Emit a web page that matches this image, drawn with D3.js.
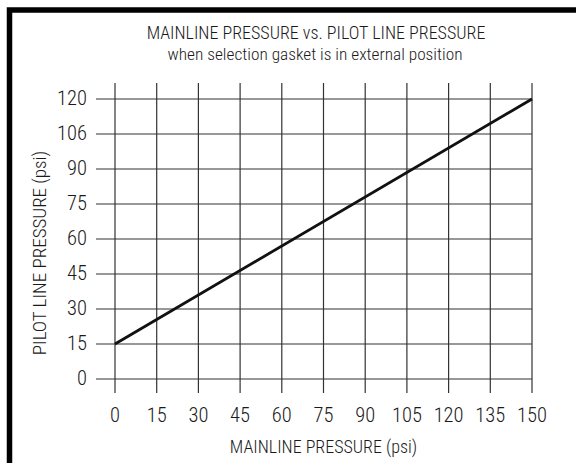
<!DOCTYPE html>
<html>
<head>
<meta charset="utf-8">
<script src="https://cdn.jsdelivr.net/npm/d3@7"></script>
<style>
  body { margin: 0; background: #fff; }
  text { font-family: "Roboto Condensed", "Liberation Sans", sans-serif; font-weight: 300; fill: #1a1a1a; }
</style>
</head>
<body>
<div id="chart"></div>
<script>
// data
var xTicks = [0, 15, 30, 45, 60, 75, 90, 105, 120, 135, 150];
var yTicks = [0, 15, 30, 45, 60, 75, 90, 105, 120];
var yTickLabels = ['0', '15', '30', '45', '60', '75', '90', '106', '120'];
var mainline = [0, 150];
var pilot = [15, 120];

var width = 576, height = 463;
var svg = d3.select('#chart').append('svg').attr('width', width).attr('height', height);

// frame (only top and left edges fall inside the picture)
svg.append('rect').attr('x', 9.5).attr('y', 10).attr('width', 600).attr('height', 500)
  .attr('fill', 'none').attr('stroke', '#000').attr('stroke-width', 5.5);

var x = d3.scaleLinear().domain([0, 150]).range([115, 532]);
var y = d3.scaleLinear().domain([0, 120]).range([379, 99]);

var grid = svg.append('g').attr('stroke', '#333').attr('stroke-width', 1.2);

grid.selectAll('line.v').data(xTicks).enter().append('line')
  .attr('class', 'v')
  .attr('x1', function(d) { return x(d); })
  .attr('x2', function(d) { return x(d); })
  .attr('y1', y(120) - 16)
  .attr('y2', y(0) + 14);

grid.selectAll('line.h').data(yTicks).enter().append('line')
  .attr('class', 'h')
  .attr('x1', x(0) - 19)
  .attr('x2', x(150))
  .attr('y1', function(d) { return y(d); })
  .attr('y2', function(d) { return y(d); });

svg.selectAll('text.yl').data(yTicks).enter().append('text')
  .attr('class', 'yl')
  .attr('x', 87)
  .attr('y', function(d) { return y(d) + 5.5; })
  .attr('text-anchor', 'end')
  .attr('font-size', 20.5)
  .text(function(d, i) { return yTickLabels[i]; });

svg.selectAll('text.xl').data(xTicks).enter().append('text')
  .attr('class', 'xl')
  .attr('x', function(d) { return x(d); })
  .attr('y', 422)
  .attr('text-anchor', 'middle')
  .attr('font-size', 20.5)
  .text(function(d) { return d; });

// pressure line
var pts = mainline.map(function(m, i) { return [m, pilot[i]]; });
svg.append('path').datum(pts)
  .attr('fill', 'none').attr('stroke', '#111').attr('stroke-width', 2.8)
  .attr('d', d3.line().x(function(d) { return x(d[0]); }).y(function(d) { return y(d[1]); }));

var cx = (x(0) + x(150)) / 2;
svg.append('text').attr('x', 316).attr('y', 39).attr('text-anchor', 'middle').attr('font-size', 18)
  .text('MAINLINE PRESSURE vs. PILOT LINE PRESSURE');
svg.append('text').attr('x', 315).attr('y', 60).attr('text-anchor', 'middle').attr('font-size', 17.3)
  .text('when selection gasket is in external position');
svg.append('text').attr('x', cx).attr('y', 453).attr('text-anchor', 'middle').attr('font-size', 18)
  .text('MAINLINE PRESSURE (psi)');
svg.append('text').attr('transform', 'translate(46,253) rotate(-90)')
  .attr('text-anchor', 'middle').attr('font-size', 19)
  .text('PILOT LINE PRESSURE (psi)');
</script>
</body>
</html>
